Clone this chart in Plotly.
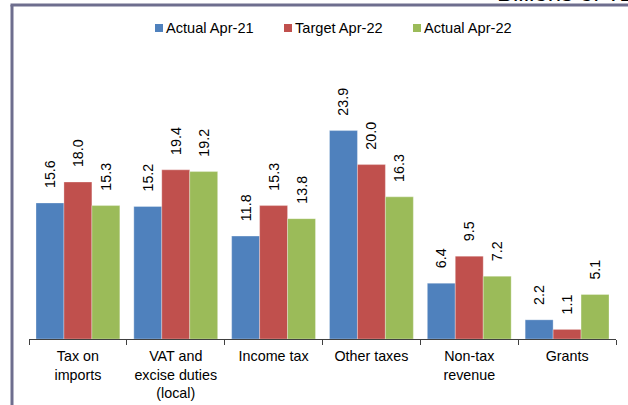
import plotly.graph_objects as go

# Revenue collections by category (billions of TZS)
categories = [
    "Tax on<br>imports",
    "VAT and<br>excise duties<br>(local)",
    "Income tax",
    "Other taxes",
    "Non-tax<br>revenue",
    "Grants",
]
series_names = ["Actual Apr-21", "Target Apr-22", "Actual Apr-22"]
actual_apr21 = [15.6, 15.2, 11.8, 23.9, 6.4, 2.2]
target_apr22 = [18.0, 19.4, 15.3, 20.0, 9.5, 1.1]
actual_apr22 = [15.3, 19.2, 13.8, 16.3, 7.2, 5.1]
unit_label = "Billions of TZS"

colors = ["#4F81BD", "#C0504D", "#9BBB59"]
font_family = "Liberation Sans, Arial, sans-serif"

W, H = 628, 405
ML, MR, MT, MB = 29, 12, 45, 66
plot_w = W - ML - MR
plot_h = H - MT - MB
y_max = plot_h / 8.72


def px(x):
    return (x - ML) / plot_w


def py(y):
    return (H - MB - y) / plot_h


fig = go.Figure()
for name, vals, col in zip(series_names, [actual_apr21, target_apr22, actual_apr22], colors):
    fig.add_trace(go.Bar(
        name=name,
        x=categories,
        y=vals,
        marker=dict(color=col, line=dict(color="rgba(255,255,255,0.6)", width=0.5)),
        texttemplate="\u00a0\u00a0\u00a0%{y:.1f}",
        textposition="outside",
        textangle=-90,
        constraintext="none",
        cliponaxis=False,
        textfont=dict(family=font_family, size=14.3, color="#000000"),
        showlegend=False,
    ))

shapes = []
annotations = []

# Legend: small squares followed by series names
legend_x = [155, 284, 413]
for name, col, lx in zip(series_names, colors, legend_x):
    shapes.append(dict(
        type="rect", xref="paper", yref="paper",
        x0=px(lx), x1=px(lx + 8), y0=py(32), y1=py(24),
        fillcolor=col, line=dict(width=0),
    ))
    annotations.append(dict(
        text=name, xref="paper", yref="paper",
        x=px(lx + 9), y=py(28), xanchor="left", yanchor="middle",
        showarrow=False,
        font=dict(family=font_family, size=14.6, color="#000000"),
    ))

# Unit caption at the top right, running past the page edge
annotations.append(dict(
    text=unit_label, xref="paper", yref="paper",
    x=px(495), y=py(8), xanchor="left", yanchor="bottom",
    showarrow=False,
    font=dict(family=font_family, size=24, color="#000000"),
))

# Panel frame: left and top rules
frame_col = "#6E6E8E"
shapes.append(dict(type="line", xref="paper", yref="paper",
                   x0=px(12), x1=px(12), y0=py(5), y1=py(412),
                   line=dict(color=frame_col, width=3)))
shapes.append(dict(type="line", xref="paper", yref="paper",
                   x0=px(10.5), x1=px(635), y0=py(5), y1=py(5),
                   line=dict(color=frame_col, width=3)))

fig.update_layout(
    width=W, height=H,
    margin=dict(l=ML, r=MR, t=MT, b=MB),
    barmode="group",
    bargap=0.143,
    bargroupgap=0,
    paper_bgcolor="#FFFFFF",
    plot_bgcolor="#FFFFFF",
    font=dict(family=font_family, size=14, color="#000000"),
    shapes=shapes,
    annotations=annotations,
    showlegend=False,
)
fig.update_xaxes(
    automargin=False,
    showline=True, linecolor="#404040", linewidth=1,
    ticks="outside", tickson="boundaries", ticklen=5, tickcolor="#404040",
    ticklabelstandoff=4,
    tickfont=dict(family=font_family, size=14.3, color="#000000"),
    showgrid=False, zeroline=False,
)
fig.update_yaxes(
    automargin=False,
    range=[0, y_max], visible=False, showgrid=False, zeroline=False,
)

fig.write_html("out.html")
